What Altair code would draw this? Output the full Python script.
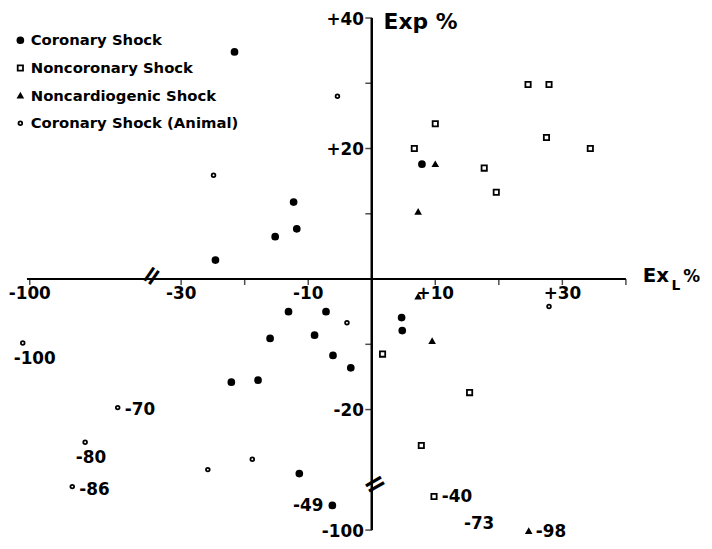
import altair as alt
import pandas as pd

# ---------------- data (positions in display units of the broken axes) ----------------
categories = ["Coronary Shock", "Noncoronary Shock", "Noncardiogenic Shock", "Coronary Shock (Animal)"]

coronary_x = [-21.6, -12.3, -11.8, -15.2, -24.6, 7.9, -13.1, -7.2, -16.0, -9.0, -6.1, -3.3, -22.1, -17.9, 4.7, 4.8, -11.4, -6.2]
coronary_y = [34.8, 11.8, 7.7, 6.5, 2.9, 17.6, -5.0, -5.0, -9.1, -8.6, -11.7, -13.6, -15.8, -15.5, -5.9, -7.9, -29.8, -62.8]

noncoronary_x = [24.6, 27.9, 10.0, 27.5, 6.7, 34.4, 17.7, 19.6, 1.7, 15.4, 7.8, 9.8]
noncoronary_y = [29.8, 29.8, 23.8, 21.7, 20.0, 20.0, 17.0, 13.3, -11.5, -17.4, -25.5, -49.4]

noncardio_x = [10.0, 7.3, 7.3, 9.5, 24.7]
noncardio_y = [17.6, 10.3, -2.7, -9.5, -101.5]

animal_x = [-5.4, -24.9, -3.9, 27.9, -103.8, -52.2, -69.9, -76.9, -25.8, -18.8]
animal_y = [28.0, 15.9, -6.7, -4.2, -9.8, -19.7, -25.0, -34.5, -29.2, -27.6]

# off-scale values written next to points
off_labels = ["-100", "-70", "-80", "-86", "-49", "-40", "-73", "-98"]
off_x = [-97.3, -40.1, -66.7, -64.8, -10.0, 13.4, 16.9, 28.2]
off_y = [-12.3, -20.0, -27.4, -40.4, -64.3, -50.9, -91.1, -103.0]

x_ticks = [-100, -30, -20, -10, 10, 20, 30, 40]
x_label_at = [-100, -30, -10, 10, 30]
x_labels = ["-100", "-30", "-10", "+10", "+30"]
y_ticks = [40, 30, 20, 10, -10, -20, -100]
y_label_at = [40, 20, -20, -100]
y_labels = ["+40", "+20", "-20", "-100"]

x_break = -35
y_break = -31.5

FONT = "DejaVu Sans"

# ---------------- scales (piecewise = broken axes) ----------------
xs = alt.Scale(domain=[-100, x_break, 40], range=[22, 143, 625], nice=False, zero=False)
ys = alt.Scale(domain=[-100, y_break, 40], range=[525, 479, 7], nice=False, zero=False)


def X(f):
    return alt.X(f, type="quantitative", scale=xs, axis=None)


def Y(f):
    return alt.Y(f, type="quantitative", scale=ys, axis=None)


pts = pd.DataFrame({
    "ExL": coronary_x + noncoronary_x + noncardio_x + animal_x,
    "ExP": coronary_y + noncoronary_y + noncardio_y + animal_y,
    "group": [categories[0]] * len(coronary_x) + [categories[1]] * len(noncoronary_x)
    + [categories[2]] * len(noncardio_x) + [categories[3]] * len(animal_x),
})

leg = alt.Legend(title=None, orient="none", legendX=5, legendY=22, padding=0,
                 labelFont=FONT, labelFontSize=15, labelFontWeight="bold", labelColor="black",
                 labelLimit=400, rowPadding=12, labelOffset=3,
                 symbolStrokeColor="black", symbolStrokeWidth=1.8)

points = alt.Chart(pts).mark_point(strokeWidth=1.8, opacity=1, fillOpacity=1).encode(
    x=X("ExL"), y=Y("ExP"),
    shape=alt.Shape("group:N", scale=alt.Scale(domain=categories, range=["circle", "square", "triangle-up", "circle"]), legend=leg),
    fill=alt.Fill("group:N", scale=alt.Scale(domain=categories, range=["black", "white", "black", "white"]), legend=leg),
    stroke=alt.Stroke("group:N", scale=alt.Scale(domain=categories, range=["black", "black", "black", "black"]), legend=leg),
    size=alt.Size("group:N", scale=alt.Scale(domain=categories, range=[36, 14, 28, 20]), legend=leg),
)

# axes lines
xaxis = alt.Chart(pd.DataFrame({"a": [-101.5], "b": [40], "y": [0]})).mark_rule(strokeWidth=2, color="black").encode(
    x=X("a"), x2="b", y=Y("y"))
yaxis = alt.Chart(pd.DataFrame({"x": [0], "a": [-100], "b": [40]})).mark_rule(strokeWidth=2.5, color="black").encode(
    x=X("x"), y=Y("a"), y2="b")

xt = alt.Chart(pd.DataFrame({"v": x_ticks, "z": [0] * len(x_ticks)})).mark_tick(
    orient="vertical", size=6, thickness=1.5, color="black", yOffset=3).encode(x=X("v"), y=Y("z"))
yt = alt.Chart(pd.DataFrame({"v": y_ticks, "z": [0] * len(y_ticks)})).mark_tick(
    orient="horizontal", size=7, thickness=1.5, color="black", xOffset=-3).encode(x=X("z"), y=Y("v"))

xl = alt.Chart(pd.DataFrame({"v": x_label_at, "t": x_labels, "z": [0] * len(x_labels)})).mark_text(
    font=FONT, fontSize=17, fontWeight="bold", align="center", baseline="middle", dy=15, color="black").encode(
    x=X("v"), y=Y("z"), text="t:N")
yl = alt.Chart(pd.DataFrame({"v": y_label_at, "t": y_labels, "z": [0] * len(y_labels)})).mark_text(
    font=FONT, fontSize=17, fontWeight="bold", align="right", baseline="middle", dx=-8, dy=2, color="black").encode(
    x=X("z"), y=Y("v"), text="t:N")

offl = alt.Chart(pd.DataFrame({"x": off_x, "y": off_y, "t": off_labels})).mark_text(
    font=FONT, fontSize=17, fontWeight="bold", align="center", baseline="middle", color="black").encode(
    x=X("x"), y=Y("y"), text="t:N")

# axis breaks
xbrk = alt.Chart(pd.DataFrame({"x": [x_break], "y": [0], "t": ["="]})).mark_text(
    font="DejaVu Sans", fontSize=26, fontWeight="bold", angle=305, align="center", baseline="middle",
    dx=4, color="black").encode(x=X("x"), y=Y("y"), text="t:N")
ybrk = alt.Chart(pd.DataFrame({"x": [0], "y": [y_break], "t": ["="]})).mark_text(
    font="DejaVu Sans", fontSize=28, fontWeight="bold", angle=330, align="center", baseline="middle",
    dx=3, dy=2, color="black").encode(x=X("x"), y=Y("y"), text="t:N")

# axis titles
exp_t = alt.Chart(pd.DataFrame({"x": [0], "y": [40], "t": ["Exp %"]})).mark_text(
    font=FONT, fontSize=22, fontWeight="bold", align="left", baseline="middle", dx=12, dy=4, color="black").encode(
    x=X("x"), y=Y("y"), text="t:N")
exl_1 = alt.Chart(pd.DataFrame({"x": [40], "y": [0], "t": ["Ex"]})).mark_text(
    font=FONT, fontSize=20, fontWeight="bold", align="left", baseline="middle", dx=17, dy=-3, color="black").encode(
    x=X("x"), y=Y("y"), text="t:N")
exl_2 = alt.Chart(pd.DataFrame({"x": [40], "y": [0], "t": ["L"]})).mark_text(
    font=FONT, fontSize=14, fontWeight="bold", align="left", baseline="middle", dx=46, dy=7, color="black").encode(
    x=X("x"), y=Y("y"), text="t:N")
exl_3 = alt.Chart(pd.DataFrame({"x": [40], "y": [0], "t": ["%"]})).mark_text(
    font=FONT, fontSize=17, fontWeight="bold", align="left", baseline="middle", dx=58, dy=-2, color="black").encode(
    x=X("x"), y=Y("y"), text="t:N")

chart = alt.layer(
    xaxis, yaxis, xt, yt, xl, yl, xbrk, ybrk, exp_t, exl_1, exl_2, exl_3, offl, points
).properties(
    width=704, height=541, padding=0, autosize=alt.AutoSizeParams(type="none")
).configure_view(stroke=None)

chart.save("out.html", embed_options={"renderer": "svg", "actions": False})
